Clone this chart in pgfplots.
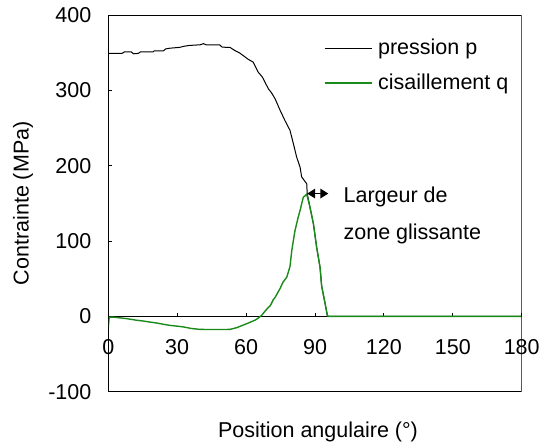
\documentclass[border=0pt]{standalone}
\usepackage{fontspec}
\setmainfont{Liberation Sans}
\usepackage{pgfplots}
\pgfplotsset{compat=1.18}
\usetikzlibrary{arrows.meta}
\definecolor{ShearGreen}{HTML}{1A8A1A}

\begin{document}
\begin{tikzpicture}[font=\fontsize{10.75}{13}\selectfont]
\begin{axis}[
  name=ax,
  scale only axis, width=206.7pt, height=188.35pt,
  xmin=0, xmax=180, ymin=-100, ymax=400,
  axis x line=middle, axis y line=left,
  axis line style={-, black, line width=0.5pt},
  hide obscured x ticks=false,
  xtick={0,30,...,180}, ytick={-100,0,...,400},
  tick align=inside, major tick length=1.7pt,
  tick style={black, line width=0.5pt},
  /pgf/number format/assume math mode=true,
  xticklabel style={anchor=center, yshift=-15.5pt},
  yticklabel style={anchor=east, inner xsep=0pt, xshift=-8.3pt},
  every axis x label/.style={at={(axis description cs:0.5,0)}, anchor=center, yshift=-20.15pt, xshift=1.5pt},
  every axis y label/.style={at={(axis description cs:-0.2063,0.5)}, rotate=90, anchor=center},
  xlabel={Position angulaire (°)},
  ylabel={Contrainte (MPa)},
  legend style={at={(0.5218,0.9366)}, anchor=north west, draw=none, fill=none,
    inner sep=0pt, outer sep=0pt, row sep=8.2pt, column sep=2.5pt,
    nodes={inner sep=0pt}},
  legend cell align=left,
  legend image code/.code={\draw[#1] (0pt,0pt) -- (23.85pt,0pt);},
]
% pression p
\addplot[black, line width=0.5pt] coordinates {
  (0,349) (6,349) (7,351) (10,351) (11,348.5) (13,349) (14,351) (19.5,351)
  (20,352.5) (24,352.5) (25,355) (27,356) (31,357) (33,358.5) (35,359.5)
  (40,360.5) (41.5,362) (42.5,360.5) (48.5,360.5) (49.5,357.5) (51.5,357)
  (53,357) (55,353) (57,350) (58.8,346) (61,341) (63.1,337.5) (65.3,324)
  (67,318) (68.2,311) (69.7,302) (71,297) (72.6,289) (74.8,273.5) (76.9,260)
  (79.1,247) (80.6,229) (82,211.5) (83.5,198) (84.2,185) (86.4,176) (86.6,163)
  (87.8,145) (89.3,123) (90.7,92) (92.2,65) (92.9,40) (94.4,17) (95.4,1)
  (95.8,0) (180,0)
};
\addlegendentry{pression p}
% cisaillement q
\addplot[ShearGreen, line width=0.7pt] coordinates {
  (0,-14) (0.4,-1) (2.2,-1) (5,-2) (8,-3) (12,-5) (15.2,-6.2) (18,-7.5)
  (21,-8.8) (24,-10.5) (26.9,-12) (30,-13) (32.7,-14) (36,-16) (39.9,-17.3)
  (45,-17.5) (50,-17.5) (53,-17.3) (55.9,-15) (58,-12.5) (60.3,-9.7) (62,-7.5)
  (63.9,-5) (65,-3) (66.8,1.5) (68,6) (69.7,12) (70.5,14) (71.8,22) (72.6,25)
  (74.8,37) (76,45) (77.7,52) (78.5,60) (79.1,66) (79.9,87.6) (80.6,101)
  (81.3,114) (82.7,131.8) (83.5,140.7) (84.9,158) (86.4,162) (87.8,145)
  (89.3,123) (90.7,92) (92.2,65) (92.9,40) (94.4,17) (95.4,1) (95.8,0) (180,0)
};
\addlegendentry{cisaillement q}
\draw[line width=0.7pt, {Triangle[length=4pt,width=4.8pt]}-{Triangle[length=4pt,width=4.8pt]}]
  (axis cs:86.6,163) -- (axis cs:95.8,163);
\node[anchor=base west, inner sep=0pt] at (axis cs:102.3,151.7) {Largeur de};
\node[anchor=base west, inner sep=0pt] at (axis cs:102.3,101.4) {zone glissante};
\draw[black, line width=0.5pt] (rel axis cs:0,0) rectangle (rel axis cs:1,1);
\end{axis}
\pgfresetboundingbox
\path[use as bounding box] ([xshift=-54.15pt, yshift=-26.15pt]ax.south west)
  rectangle ([xshift=8.65pt, yshift=7.5pt]ax.north east);
\end{tikzpicture}
\end{document}
